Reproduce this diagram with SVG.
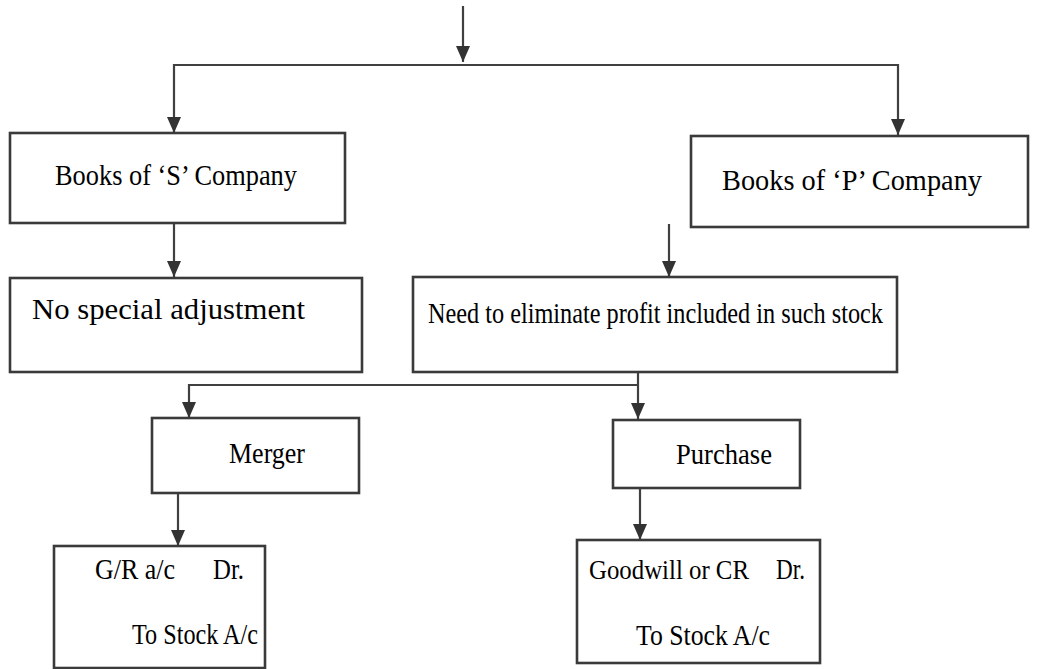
<svg xmlns="http://www.w3.org/2000/svg" width="1040" height="669" viewBox="0 0 1040 669">
  <style>
    .box { fill: #ffffff; stroke: #3a3a3a; stroke-width: 2.6; }
    .link { fill: none; stroke: #404040; stroke-width: 2.2; }
    .lbl { font-family: "Liberation Serif", "Times New Roman", serif; font-size: 29px; fill: #000000; }
    .sm { font-size: 28px; }
  </style>
  <defs>
    <marker id="arrow" viewBox="0 0 16 14" refX="16" refY="7" markerWidth="16" markerHeight="14" markerUnits="userSpaceOnUse" orient="auto">
      <path d="M0,0 L16,7 L0,14 z" fill="#333333"/>
    </marker>
  </defs>

  <rect width="1040" height="669" fill="#ffffff"/>

  <!-- connectors -->
  <g id="connectors">
    <line class="link" x1="463" y1="6" x2="463" y2="62" marker-end="url(#arrow)"/>
    <polyline class="link" points="463,65 174,65 174,133" marker-end="url(#arrow)"/>
    <polyline class="link" points="463,65 898,65 898,135" marker-end="url(#arrow)"/>
    <line class="link" x1="174" y1="223" x2="174" y2="277" marker-end="url(#arrow)"/>
    <line class="link" x1="669" y1="224" x2="669" y2="277" marker-end="url(#arrow)"/>
    <line class="link" x1="638" y1="372" x2="638" y2="419" marker-end="url(#arrow)"/>
    <polyline class="link" points="638,385 189,385 189,418" marker-end="url(#arrow)"/>
    <line class="link" x1="178" y1="493" x2="178" y2="546" marker-end="url(#arrow)"/>
    <line class="link" x1="640" y1="488" x2="640" y2="540" marker-end="url(#arrow)"/>
  </g>

  <!-- nodes -->
  <g id="books-s">
    <rect class="box" x="10" y="133" width="335" height="90"/>
    <text class="lbl" x="55" y="185" textLength="242" lengthAdjust="spacingAndGlyphs">Books of ‘S’ Company</text>
  </g>

  <g id="books-p">
    <rect class="box" x="691" y="136" width="337" height="91"/>
    <text class="lbl" x="722" y="190" textLength="260" lengthAdjust="spacingAndGlyphs">Books of ‘P’ Company</text>
  </g>

  <g id="no-adjustment">
    <rect class="box" x="10" y="278" width="352" height="94"/>
    <text class="lbl" x="32" y="319" textLength="273" lengthAdjust="spacingAndGlyphs">No special adjustment</text>
  </g>

  <g id="eliminate-profit">
    <rect class="box" x="413" y="277" width="484" height="95"/>
    <text class="lbl" x="428" y="323" style="font-size:30px" textLength="455" lengthAdjust="spacingAndGlyphs">Need to eliminate profit included in such stock</text>
  </g>

  <g id="merger">
    <rect class="box" x="152" y="418" width="207" height="75"/>
    <text class="lbl" x="229" y="463" textLength="76" lengthAdjust="spacingAndGlyphs">Merger</text>
  </g>

  <g id="purchase">
    <rect class="box" x="613" y="420" width="187" height="68"/>
    <text class="lbl" x="676" y="464" textLength="96" lengthAdjust="spacingAndGlyphs">Purchase</text>
  </g>

  <g id="merger-entry">
    <rect class="box" x="54" y="546" width="211" height="122"/>
    <text class="lbl" x="95" y="579" textLength="80" lengthAdjust="spacingAndGlyphs">G/R a/c</text>
    <text class="lbl" x="213" y="579" textLength="31" lengthAdjust="spacingAndGlyphs">Dr.</text>
    <text class="lbl" x="132" y="644" textLength="126" lengthAdjust="spacingAndGlyphs">To Stock A/c</text>
  </g>

  <g id="purchase-entry">
    <rect class="box" x="577" y="540" width="243" height="123"/>
    <text class="lbl sm" x="589" y="579" textLength="160" lengthAdjust="spacingAndGlyphs">Goodwill or CR</text>
    <text class="lbl" x="776" y="579" textLength="29" lengthAdjust="spacingAndGlyphs">Dr.</text>
    <text class="lbl" x="636" y="645" textLength="134" lengthAdjust="spacingAndGlyphs">To Stock A/c</text>
  </g>
</svg>
